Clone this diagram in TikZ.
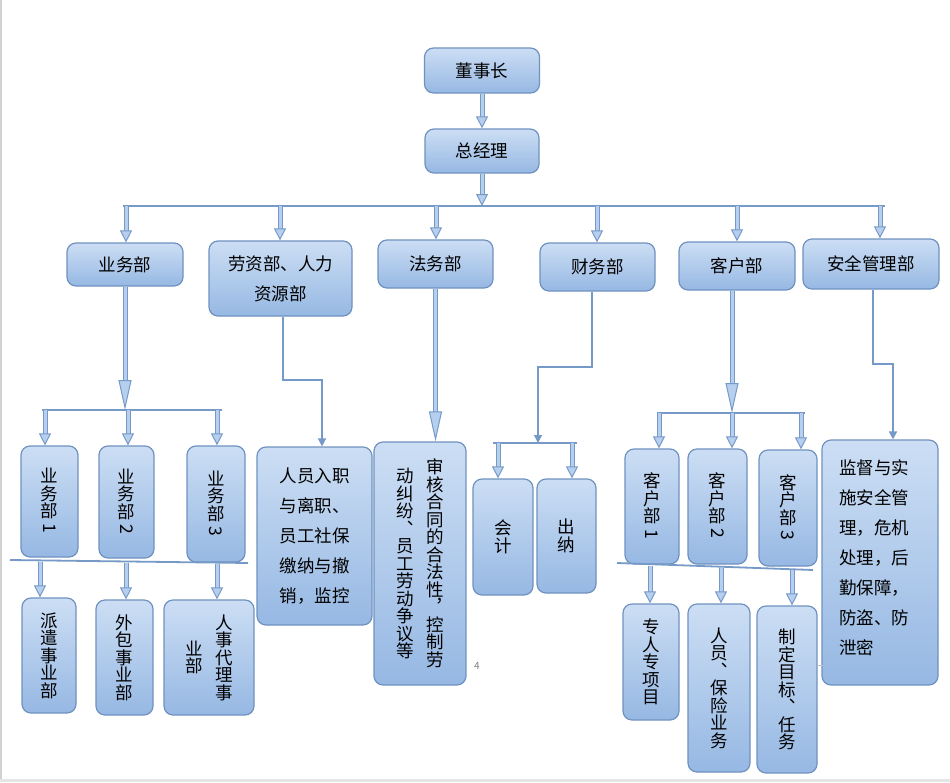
\documentclass[tikz,border=0pt]{standalone}
\usepackage{fontspec}
\usepackage{graphicx}
\usetikzlibrary{arrows.meta}
\newfontfamily\cjk{Noto Sans CJK SC}
\definecolor{boxtop}{RGB}{204,222,244}
\definecolor{boxbot}{RGB}{150,184,227}
\definecolor{bordercol}{RGB}{112,146,192}
\definecolor{edgecol}{RGB}{118,154,200}
\definecolor{arrowfill}{RGB}{182,207,238}
\newcommand\vcolumn[1]{\parbox[c]{18pt}{\centering #1}}
\newcommand\rdigit[1]{\rotatebox[origin=c]{-90}{#1}}
\begin{document}
\begin{tikzpicture}[x=1pt,y=-1pt,
  box/.style={rounded corners=9pt, draw=bordercol, line width=1.2pt,
    top color=boxtop, bottom color=boxbot, inner sep=0pt},
  ht/.style={font=\cjk\fontsize{17.5}{30}\selectfont, align=center},
  hl/.style={font=\cjk\fontsize{17.5}{30}\selectfont, align=left},
  vt/.style={font=\cjk\fontsize{17.5}{17.5}\selectfont, align=center},
  dbl/.style={draw=edgecol, line width=1pt, double=arrowfill, double distance=3pt,
    -{Triangle[length=12pt, width=12pt, fill=arrowfill]}},
  dblbig/.style={dbl, -{Triangle[length=30pt, width=13pt, fill=arrowfill]}},
  thinarr/.style={draw=edgecol, line width=1.5pt, -{Triangle[length=8pt, width=8pt]}},
  busline/.style={draw=edgecol, line width=2.5pt},
  sepline/.style={draw=edgecol, line width=1.8pt}]
\useasboundingbox (0,0) rectangle (950,782);
\fill[white] (0,0) rectangle (950,782);
\draw[gray!35, line width=1.5pt] (1,0) -- (1,782);
\draw[gray!20, line width=3pt] (0,780) -- (950,780);

% level 0-1
\node[box, ht, minimum width=115pt, minimum height=45pt] (dsz) at (482,70.5) {董事长};
\node[box, ht, minimum width=114pt, minimum height=44pt] (zjl) at (482,151) {总经理};

\node[box, ht, minimum width=116pt, minimum height=43pt] (ywb) at (125,264.5) {业务部};
\node[box, ht, minimum width=143pt, minimum height=75pt] (lz) at (280.5,278.5) {劳资部、人力\\资源部};
\node[box, ht, minimum width=115pt, minimum height=48pt] (fw) at (435.5,264) {法务部};
\node[box, ht, minimum width=115pt, minimum height=48pt] (cw) at (597.5,267) {财务部};
\node[box, ht, minimum width=116pt, minimum height=48pt] (kh) at (737,266) {客户部};
\node[box, ht, minimum width=136pt, minimum height=50pt] (aq) at (871,264) {安全管理部};

% 业务部 branch
\node[box, vt, minimum width=57pt, minimum height=111pt] (yw1) at (49.5,501.5) {业\\务\\部\\\rdigit{1}};
\node[box, vt, minimum width=55pt, minimum height=112pt] (yw2) at (126.5,502) {业\\务\\部\\\rdigit{2}};
\node[box, vt, minimum width=58pt, minimum height=116pt] (yw3) at (216,504) {业\\务\\部\\\rdigit{3}};
\node[box, vt, minimum width=54pt, minimum height=115pt] (pq) at (49,655.5) {派\\遣\\事\\业\\部};
\node[box, vt, minimum width=57pt, minimum height=115pt] (wb) at (124.5,657.5) {外\\包\\事\\业\\部};
\node[box, vt, minimum width=90pt, minimum height=115pt] (rs) at (209,657.5)
  {\vcolumn{业\\部}\hspace{12pt}\vcolumn{人\\事\\代\\理\\事}};

% 劳资部 branch
\node[box, hl, minimum width=115pt, minimum height=178pt] (ry) at (314.5,536)
  {人员入职\\与离职、\\员工社保\\缴纳与撤\\销，监控};

% 法务部 branch
\node[box, vt, minimum width=92pt, minimum height=243pt] (sh) at (420,563.5)
  {\vcolumn{动\\纠\\纷\\︑\\员\\工\\劳\\动\\争\\议\\等}\hspace{12pt}\vcolumn{审\\核\\合\\同\\的\\合\\法\\性\\︐\\控\\制\\劳}};

% 财务部 branch
\node[box, vt, minimum width=60pt, minimum height=116pt] (kj) at (503,537) {会\\计};
\node[box, vt, minimum width=59pt, minimum height=114pt] (cn) at (566.5,536) {出\\纳};

% 客户部 branch
\node[box, vt, minimum width=54pt, minimum height=115pt] (kh1) at (652,506.5) {客\\户\\部\\\rdigit{1}};
\node[box, vt, minimum width=59pt, minimum height=115pt] (kh2) at (717.5,506.5) {客\\户\\部\\\rdigit{2}};
\node[box, vt, minimum width=58pt, minimum height=116pt] (kh3) at (788,508) {客\\户\\部\\\rdigit{3}};
\node[box, vt, minimum width=56pt, minimum height=116pt] (zr) at (651,662) {专\\人\\专\\项\\目};
\node[box, vt, minimum width=62pt, minimum height=168pt] (ry2) at (719,688) {人\\员\\︑\\保\\险\\业\\务};
\node[box, vt, minimum width=60pt, minimum height=167pt] (zd) at (787,689.5) {制\\定\\目\\标\\︑\\任\\务};

% 安全管理部 branch
\node[box, minimum width=116pt, minimum height=245pt] (jd) at (880,562.5) {};
\node[hl, inner sep=0pt] (jdt) at ([xshift=-6pt, yshift=5pt]jd.center)
  {监督与实\\施安全管\\理，危机\\处理，后\\勤保障，\\防盗、防\\泄密};

% page number and mark
\node[font=\cjk\fontsize{10}{10}\selectfont, text=gray] (pg) at (477,666) {4};
\coordinate (mk1) at (817,665); \coordinate (mk2) at (823,665);
\draw[gray!50, line width=0.6pt] (mk1) -- (mk2);

% connectors level 0-1
\draw[dbl] (dsz) -- (zjl);
\coordinate (bus0) at (482,206);
\coordinate (busL) at (123,206);
\coordinate (busR) at (885,206);
\draw[busline] (busL) -- (busR);
\draw[dbl] (zjl) -- (bus0);
\coordinate (d1) at (126,206);
\coordinate (d2) at (280,206);
\coordinate (d3) at (436,206);
\coordinate (d4) at (597,206);
\coordinate (d5) at (737,206);
\coordinate (d6) at (880,206);
\draw[dbl] (d1) -- (d1 |- ywb.north);
\draw[dbl] (d2) -- (d2 |- lz.north);
\draw[dbl] (d3) -- (d3 |- fw.north);
\draw[dbl] (d4) -- (d4 |- cw.north);
\draw[dbl] (d5) -- (d5 |- kh.north);
\draw[dbl] (d6) -- (d6 |- aq.north);

% 业务部 branch connectors
\coordinate (yb) at (125,410);
\coordinate (ybL) at (42,410);
\coordinate (ybR) at (222,410);
\draw[busline] (ybL) -- (ybR);
\draw[dblbig] (ywb) -- (yb);
\coordinate (yd1) at (45,410);
\coordinate (yd2) at (128,410);
\coordinate (yd3) at (217,410);
\draw[dbl] (yd1) -- (yd1 |- yw1.north);
\draw[dbl] (yd2) -- (yd2 |- yw2.north);
\draw[dbl] (yd3) -- (yd3 |- yw3.north);
\coordinate (s1L) at (10,560);
\coordinate (s1R) at (248,563);
\draw[sepline] (s1L) -- (s1R);
\coordinate (sd1) at (40,562);
\coordinate (sd2) at (126,563);
\coordinate (sd3) at (217,564);
\draw[dbl] (sd1) -- (sd1 |- pq.north);
\draw[dbl] (sd2) -- (sd2 |- wb.north);
\draw[dbl] (sd3) -- (sd3 |- rs.north);

% 劳资部 connector
\coordinate (lzk) at (322,380);
\draw[thinarr] ([xshift=2.5pt]lz.south) |- (lzk) -- (lzk |- ry.north);

% 法务部 connector
\draw[dblbig] (fw.south) -- (fw.south |- sh.north);

% 财务部 connectors
\coordinate (cwk) at (538,367);
\coordinate (cb) at (538,443);
\coordinate (cbL) at (493,443);
\coordinate (cbR) at (577,443);
\draw[busline] (cbL) -- (cbR);
\draw[thinarr] ([xshift=-5.5pt]cw.south) |- (cwk) -- (cb);
\coordinate (cd1) at (498,443);
\coordinate (cd2) at (572,443);
\draw[dbl] (cd1) -- (cd1 |- kj.north);
\draw[dbl] (cd2) -- (cd2 |- cn.north);

% 客户部 connectors
\coordinate (kb) at (732,413);
\coordinate (kbL) at (657,413);
\coordinate (kbR) at (805,413);
\draw[busline] (kbL) -- (kbR);
\draw[dblbig] ([xshift=-5pt]kh.south) -- (kb);
\coordinate (kd1) at (659,413);
\coordinate (kd2) at (732,413);
\coordinate (kd3) at (801,413);
\draw[dbl] (kd1) -- (kd1 |- kh1.north);
\draw[dbl] (kd2) -- (kd2 |- kh2.north);
\draw[dbl] (kd3) -- (kd3 |- kh3.north);
\coordinate (s2L) at (617,563);
\coordinate (s2R) at (813,570);
\draw[sepline] (s2L) -- (s2R);
\coordinate (ks1) at (650,566);
\coordinate (ks2) at (721,568);
\coordinate (ks3) at (792,570);
\draw[dbl] (ks1) -- (ks1 |- zr.north);
\draw[dbl] (ks2) -- (ks2 |- ry2.north);
\draw[dbl] (ks3) -- (ks3 |- zd.north);

% 安全管理部 connector
\coordinate (aqk) at (893,364);
\draw[thinarr] ([xshift=2pt]aq.south) |- (aqk) -- (aqk |- jd.north);
\end{tikzpicture}
\end{document}
